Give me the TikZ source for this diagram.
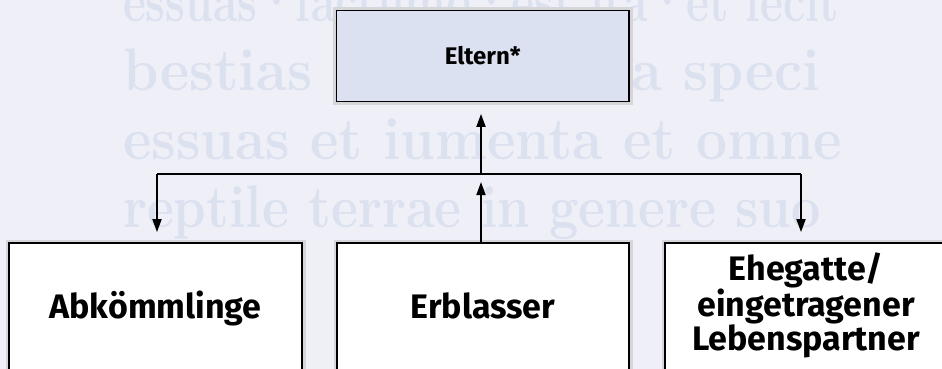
\documentclass[tikz,border=0pt]{standalone}
\usepackage{fontspec}
\setmainfont{Fira Sans}
\newfontfamily\wmfont{Latin Modern Roman}
\usetikzlibrary{arrows.meta}
\definecolor{bgcol}{HTML}{EEEFF7}
\definecolor{topfill}{HTML}{DCE1F1}
\definecolor{wmcol}{HTML}{DCE1F0}
\definecolor{halo}{HTML}{D6D6DA}
\begin{document}
\begin{tikzpicture}[x=1pt,y=-1pt,
  box/.style={draw=black, line width=1.8pt, fill=white, inner sep=0pt,
    preaction={draw=halo, line width=7pt}},
  arr/.style={line width=1.8pt, -{Triangle[length=13pt,width=9pt]}},
  bus/.style={line width=1.8pt},
  lbl/.style={font=\bfseries\fontsize{34}{34}\selectfont, align=center, inner sep=0pt},
  wm/.style={text=wmcol, font=\wmfont\bfseries\fontsize{60}{60}\selectfont, anchor=base west, inner sep=0pt}]
\fill[bgcol] (0,0) rectangle (942,369);
\useasboundingbox (0,0) rectangle (942,369);
% faint background script
\node[wm, xscale=0.74] (w1) at (123,22) {essuas·factumq·est ita·et fecit};
\node[wm, xscale=0.94] (w2) at (123,90) {bestias terrae iuxta speci};
\node[wm, xscale=0.92] (w3) at (123,159) {essuas et iumenta et omne};
\node[wm, xscale=0.87] (w4) at (123,227) {reptile terrae in genere suo};
% boxes
\node[box, fill=topfill, minimum width=292.5pt, minimum height=91pt,
  font=\bfseries\fontsize{24}{24}\selectfont] (eltern) at (482.75,56) {Eltern*};
\node[box, minimum width=293pt, minimum height=150pt] (abk) at (155.5,318) {};
\node[box, minimum width=292pt, minimum height=150pt] (erb) at (483,318) {};
\node[box, minimum width=290pt, minimum height=150pt] (ehe) at (810,318) {};
\node[lbl, anchor=base] (abkT) at (155.5,318) {Abkömmlinge};
\node[lbl, anchor=base] (erbT) at (483,318) {Erblasser};
\node[lbl] (eheT) at (806,305) {Ehegatte/\\eingetragener\\Lebenspartner};
% connectors
\coordinate (busL) at (157,174);
\coordinate (busC) at (481,174);
\coordinate (busR) at (801,174);
\draw[bus] (busL) -- (busR);
\draw[arr, shorten >=11.5pt] (busC) -- (eltern.south -| busC);
\draw[arr, shorten >=8pt] (erb.north -| busC) -- (busC);
\draw[arr, shorten >=10pt] (busL) -- (abk.north -| busL);
\draw[arr, shorten >=10pt] (busR) -- (ehe.north -| busR);
\end{tikzpicture}
\end{document}
